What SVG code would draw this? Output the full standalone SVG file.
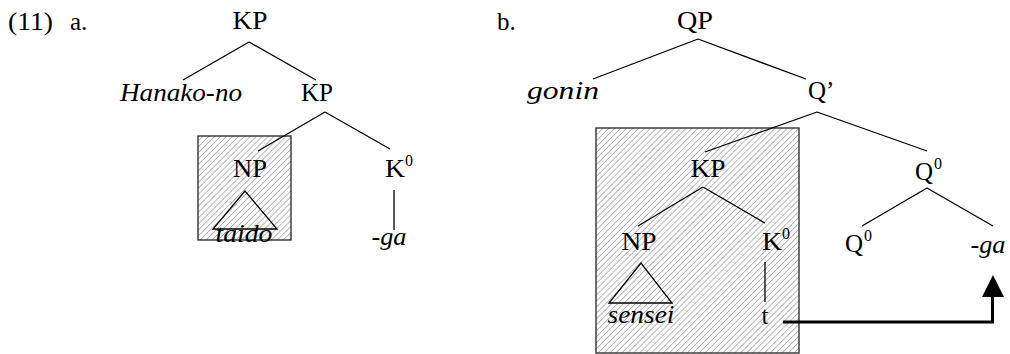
<svg xmlns="http://www.w3.org/2000/svg" width="1010" height="354" viewBox="0 0 1010 354">
<defs>
<pattern id="hatch" patternUnits="userSpaceOnUse" width="4.2" height="4.2" patternTransform="rotate(45)">
<rect width="4.2" height="4.2" fill="#ffffff"/>
<line x1="0" y1="0" x2="0" y2="4.2" stroke="#a8a8a8" stroke-width="1.6"/>
</pattern>
<style>
text{font-family:"Liberation Serif","Times New Roman",serif;font-size:25px;fill:#000}
.i{font-style:italic}
.m{text-anchor:middle}
.s{font-size:16px}
.e{stroke:#000;stroke-width:1.3;fill:none}
.box{fill:url(#hatch);stroke:#222;stroke-width:1.3}
</style>
</defs>
<rect width="1010" height="354" fill="#fff"/>
<g id="boxes">
<rect class="box" x="198" y="136" width="93" height="104"/>
<rect class="box" x="596" y="128" width="203" height="225"/>
</g>
<g id="labels">
<text x="8" y="30" textLength="45" lengthAdjust="spacingAndGlyphs">(11)</text>
<text x="70" y="30">a.</text>
<text x="497" y="30">b.</text>
</g>
<g id="connectors">
<path class="e" d="M249,42 L183,80 M249,42 L316,80"/>
<path class="e" d="M325,112 L258,151 M325,112 L390,149"/>
<path class="e" d="M245,191 L213,229 L277,229 Z"/>
<path class="e" d="M394,190 V230"/>
<path class="e" d="M698,39 L593,79 M698,39 L806,79"/>
<path class="e" d="M817,112 L705,152 M817,112 L927,151"/>
<path class="e" d="M703,187 L638,226 M703,187 L765,223"/>
<path class="e" d="M641,263 L609,303 L672,303 Z"/>
<path class="e" d="M765,262 V302"/>
<path class="e" d="M927,188 L862,226 M927,188 L993,226"/>
<path d="M783,322 H992.5 V296" fill="none" stroke="#000" stroke-width="3"/>
<polygon points="993,275 982,297 1004,297" fill="#000"/>
</g>
<g id="a-KP"><text class="m" x="250" y="29" textLength="35" lengthAdjust="spacingAndGlyphs">KP</text></g>
<g id="a-Hanako"><text class="m i" x="181" y="101" textLength="122" lengthAdjust="spacingAndGlyphs">Hanako-no</text></g>
<g id="a-KP2"><text class="m" x="317" y="101" textLength="32" lengthAdjust="spacingAndGlyphs">KP</text></g>
<g id="a-NP"><text class="m" x="250" y="177" textLength="34" lengthAdjust="spacingAndGlyphs">NP</text></g>
<g id="a-taido"><text class="m i" x="244" y="242" textLength="57" lengthAdjust="spacingAndGlyphs">taido</text></g>
<g id="a-K0"><text x="385" y="177" textLength="20" lengthAdjust="spacingAndGlyphs">K</text><text class="s" x="405" y="166">0</text></g>
<g id="a-ga"><text class="m i" x="389" y="245" textLength="35" lengthAdjust="spacingAndGlyphs">-ga</text></g>
<g id="b-QP"><text class="m" x="695" y="29" textLength="36" lengthAdjust="spacingAndGlyphs">QP</text></g>
<g id="b-gonin"><text class="m i" x="563" y="99" textLength="72" lengthAdjust="spacingAndGlyphs">gonin</text></g>
<g id="b-Qbar"><text x="808" y="99">Q’</text></g>
<g id="b-KP"><text class="m" x="708" y="177" textLength="35" lengthAdjust="spacingAndGlyphs">KP</text></g>
<g id="b-NP"><text class="m" x="639" y="250" textLength="35" lengthAdjust="spacingAndGlyphs">NP</text></g>
<g id="b-sensei"><text class="m i" x="641" y="323" textLength="67" lengthAdjust="spacingAndGlyphs">sensei</text></g>
<g id="b-K0"><text x="762" y="250" textLength="20" lengthAdjust="spacingAndGlyphs">K</text><text class="s" x="782" y="239">0</text></g>
<g id="b-t"><text class="m" x="765" y="324">t</text></g>
<g id="b-Q0a"><text x="915" y="180">Q</text><text class="s" x="934" y="169">0</text></g>
<g id="b-Q0b"><text x="845" y="252">Q</text><text class="s" x="864" y="241">0</text></g>
<g id="b-ga"><text class="m i" x="988" y="253" textLength="35" lengthAdjust="spacingAndGlyphs">-ga</text></g>
</svg>
